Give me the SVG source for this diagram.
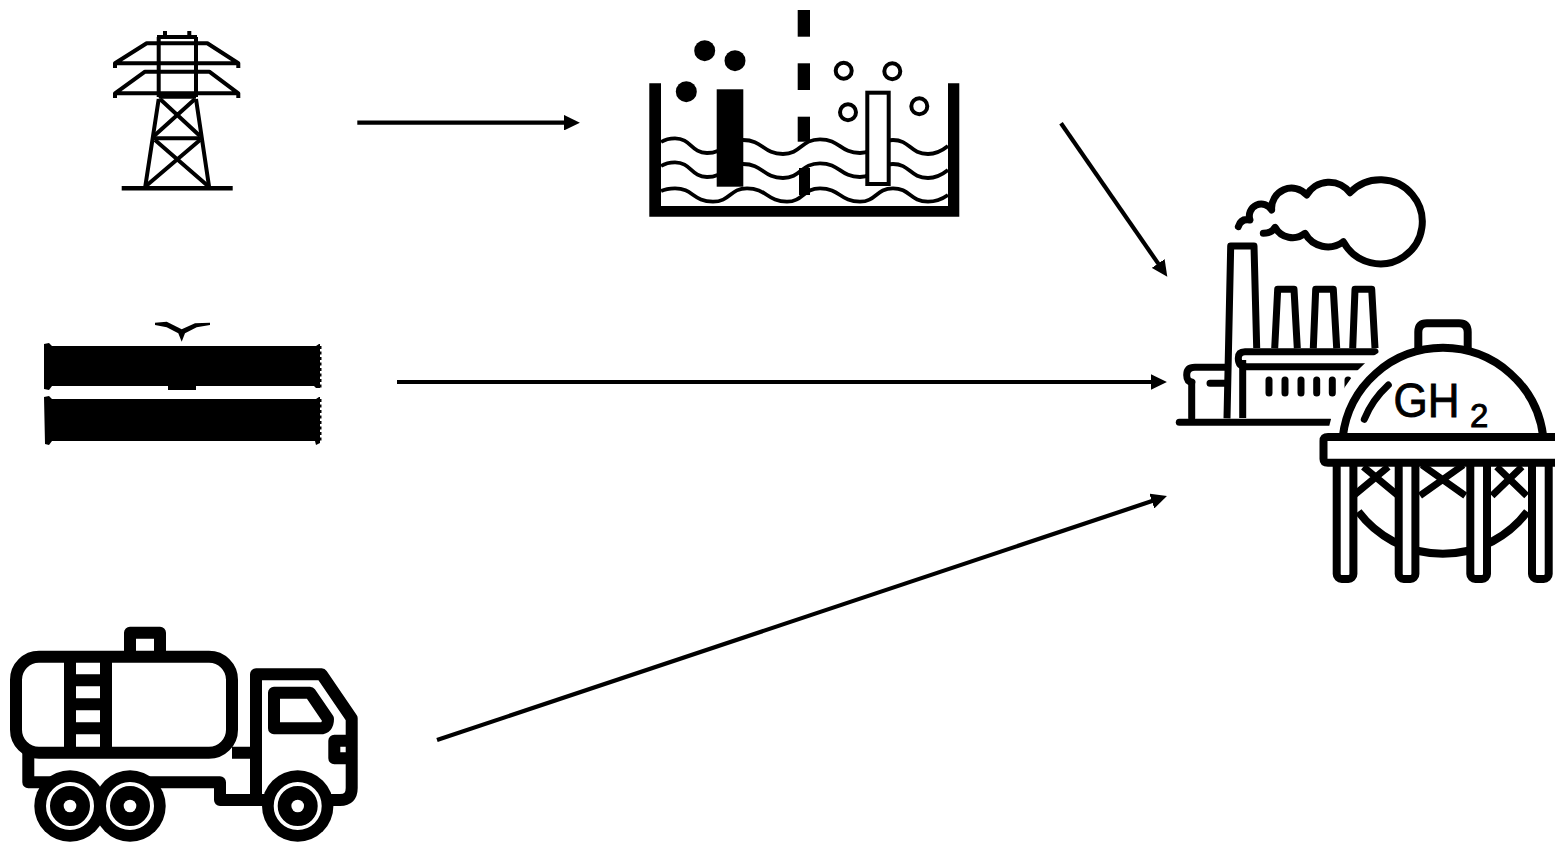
<svg xmlns="http://www.w3.org/2000/svg" width="1555" height="842" viewBox="0 0 1555 842">
<style>
.ln{fill:none;stroke:#000;stroke-linejoin:round}
.rc{stroke-linecap:round}
.blk{fill:#000;stroke:none}
.conn{fill:none;stroke:#000;stroke-width:4.2}
.lab{font-family:"Liberation Sans",Arial,sans-serif;fill:#000;stroke:#000;stroke-width:.9}
</style>
<defs>
<marker id="ah" markerUnits="strokeWidth" markerWidth="3.8" markerHeight="3.7" refX="0.25" refY="1.85" orient="auto"><path d="M0 0L3.8 1.85L0 3.7Z" fill="#000"/></marker>
<filter id="soft" x="-5%" y="-5%" width="110%" height="110%"><feGaussianBlur stdDeviation="0.6"/></filter>
<filter id="soft2" x="-5%" y="-5%" width="110%" height="110%"><feGaussianBlur stdDeviation="0.4"/></filter>
</defs>
<rect width="1555" height="842" fill="#fff"/>
<g id="tower" class="ln" stroke-width="4" filter="url(#soft)">
<path d="M165 31V37M189.300 31V37M157 37H197M158.700 37V97M196 37V97"/>
<path d="M115 68V63.300L146.700 43.300H207.300L238.300 63.300V68M115 63.300H238.300"/>
<path d="M115 98V93.300L145 71.700H209.300L238.300 93.300V98M115 93.300H238.300"/>
<path d="M158.700 96.700H196M158.700 99L145 188.300M196 99L209.300 188.300M153 138.300H201.700"/>
<path d="M160 99L200 136M195 99L154 136M155 140L208 186M200 140L146 186"/>
<path d="M121.700 188.300H232.700" stroke-width="4.500"/>
</g>
<g id="electrolyser" filter="url(#soft)">
<g class="ln" stroke-width="3.800">
<path d="M661 142C665 139.500 670 138.300 675 138.300C691 138.300 691 153 707 153C725 153 725 140 743 140C763 140 763 154 783 154C801 154 801 139.300 820 139.300C840 139.300 840 153 860 153C876 153 876 140 893 140C910 140 910 154 928 154C936 154 943 150 948 146"/>
<path d="M661 166C665 163.500 670 162.300 675 162.300C691 162.300 691 177 707 177C725 177 725 164 743 164C763 164 763 178 783 178C801 178 801 163.300 820 163.300C840 163.300 840 177 860 177C876 177 876 164 893 164C910 164 910 178 928 178C936 178 943 174 948 170"/>
<path d="M661 191C665 189 670 188.300 675 188.300C693 188.300 693 201.700 713 201.700C730 201.700 730 188.300 747 188.300C767 188.300 767 201.700 787 201.700C803 201.700 803 188.300 820 188.300C840 188.300 840 201.700 860 201.700C876 201.700 876 188.300 893 188.300C910 188.300 910 201.700 928 201.700C936 201.700 943 198.500 948 195"/>
</g>
<path class="blk" d="M649.300 83.300H661V206H948V83.300H959.300V216.700H649.300Z"/>
<rect class="blk" x="716.700" y="89.300" width="26.600" height="97.400"/>
<rect x="867.300" y="92.700" width="21.400" height="91.300" fill="#fff" stroke="#000" stroke-width="4"/>
<rect class="blk" x="797.700" y="10" width="12.300" height="26.700"/>
<rect class="blk" x="797.700" y="63.300" width="12.300" height="26.700"/>
<rect class="blk" x="797.700" y="116.700" width="12.300" height="25"/>
<rect class="blk" x="799" y="168" width="11" height="27"/>
<circle class="blk" cx="704.700" cy="50.700" r="10.500"/>
<circle class="blk" cx="735" cy="60.700" r="10.500"/>
<circle class="blk" cx="686.300" cy="91.700" r="10.500"/>
<g class="ln" stroke-width="4">
<circle cx="843.700" cy="70.700" r="8"/>
<circle cx="892.300" cy="71.300" r="8"/>
<circle cx="848" cy="112.300" r="8"/>
<circle cx="919.300" cy="106.300" r="8"/>
</g>
</g>
<g id="pipeline" filter="url(#soft)">
<path class="blk" d="M155 322.700L166.700 321.700L181.700 329.300L195 323.300L210 322.700V325L196.700 327.300L185 333.300L181.700 341.700L178.300 333.300L166.700 327.300L155 325Z"/>
<path class="blk" d="M44 344L49 343L52 346H316L319 344H320V388H316L314 386H196V390H168V386H52L49 390L44 389Z"/>
<path class="blk" d="M44 397L49 396L52 399H316L319 397H320V443L316 445L315 441H52L49 445L45 444Z"/>
<path d="M320 346V388M320 399V443" stroke="#000" stroke-width="3" stroke-dasharray="3 2.500" fill="none"/>
</g>
<g id="truck" filter="url(#soft2)">
<g class="ln" stroke-width="12">
<rect x="16" y="656.700" width="216" height="96" rx="23"/>
<path d="M130 656.700V632.700H160V656.700"/>
<path d="M70 656.700V752.700M106 656.700V752.700M70 680.300H106M70 704.300H106M70 728.300H106"/>
<path d="M28.300 752.700V782.300H55M148 782.300H220V800H340Q351.700 800 351.700 788V718.300L321.700 674.300H256V800M232 752.700H256"/>
<path d="M274 692.700H310L328 719Q328 728.300 320 728.300H274Z"/>
<path d="M351.700 740.700H334.300V758.300H351.700"/>
</g>
<g>
<circle class="blk" cx="70" cy="806" r="35.700"/><circle cx="70" cy="806" r="22" fill="none" stroke="#fff" stroke-width="4"/><circle cx="70" cy="806" r="6.300" fill="#fff"/>
<circle class="blk" cx="130" cy="806" r="35.700"/><circle cx="130" cy="806" r="22" fill="none" stroke="#fff" stroke-width="4"/><circle cx="130" cy="806" r="6.300" fill="#fff"/>
<circle class="blk" cx="297.700" cy="806" r="35.700"/><circle cx="297.700" cy="806" r="22" fill="none" stroke="#fff" stroke-width="4"/><circle cx="297.700" cy="806" r="6.300" fill="#fff"/>
</g>
</g>
<g id="plant">
<g filter="url(#soft2)">
<g class="ln" stroke-width="7">
<path class="rc" d="M1238.300 226.700Q1241 218 1250 220A12 12 0 0 1 1271.700 210A20 20 0 0 1 1306.700 195A26 26 0 0 1 1350 192.700A42 42 0 1 1 1343.300 241.700A26 26 0 0 1 1305 233.300A20 20 0 0 1 1275 227.300Q1272 233.300 1263.300 233.300"/>
<path d="M1227 418.300L1230.700 246H1254L1256.700 348"/>
<path d="M1242.700 360V418"/>
<path d="M1274.700 348.300L1277.700 289.300H1294L1297.300 348.300M1313.300 348.300L1315.700 289.300H1333.300L1336.700 348.300M1352.700 348.300L1355 289.300H1371.700L1375 348.300"/>
<path class="rc" d="M1375 351.700H1245Q1238.300 351.700 1238.300 358.300Q1238.300 366.700 1246.700 366.700H1365"/>
<path class="rc" d="M1225 367.300H1195Q1186.700 367.300 1186.700 375Q1186.700 381.700 1192 382.300M1191.700 382V418M1210 383.300H1225"/>
<path class="rc" d="M1269 380V393M1285 380V393M1301 380V393M1316.700 380V393M1332.300 380V393M1348 380V393"/>
<path class="rc" d="M1179.300 422.300H1330"/>
</g>
<path d="M1342.700 437A101 101 0 0 1 1543.300 437Z" fill="#fff" stroke="#fff" stroke-width="30" stroke-linejoin="round"/>
<rect x="1322" y="441" width="233" height="22" fill="#fff" stroke="#fff" stroke-width="10"/>
<g class="ln" stroke-width="8">
<path d="M1358.300 511.700A106 106 0 0 0 1527.300 511.700"/>
<path stroke-width="7" d="M1363.300 466.700L1398.300 495.700M1388.300 466.700L1353.300 495.700M1420 495.700L1463.300 465M1465.300 495.700L1422 465M1526.700 495.700L1496.700 466.700M1492 495.700L1522 466.700"/>
<rect x="1336.700" y="450" width="16.700" height="129" rx="5" fill="#fff"/>
<rect x="1398.700" y="450" width="16.700" height="129" rx="5" fill="#fff"/>
<rect x="1470.300" y="450" width="16.700" height="129" rx="5" fill="#fff"/>
<rect x="1532" y="450" width="16.700" height="129" rx="5" fill="#fff"/>
<path d="M1418.300 352V332Q1418.300 323.300 1427 323.300H1459Q1467.700 323.300 1467.700 332V352"/>
<path d="M1342.700 437A101 101 0 0 1 1543.300 437" fill="#fff"/>
<path d="M1560 437H1328Q1323.500 437 1323.500 441V459Q1323.500 462.700 1328 462.700H1560" fill="#fff"/>
<path class="rc" d="M1364.300 419.300Q1372 400 1388.300 385" stroke-width="7"/>
</g>
</g>
<text class="lab" x="1393.500" y="416.500" font-size="48" textLength="66" lengthAdjust="spacingAndGlyphs">GH</text>
<text class="lab" x="1470" y="426.500" font-size="33">2</text>
</g>
<g id="connectors" class="conn">
<path d="M357.300 122.700H565" marker-end="url(#ah)"/>
<path d="M397 382H1152" marker-end="url(#ah)"/>
<path d="M437 740L1152.800 500.800" marker-end="url(#ah)"/>
<path d="M1061 123.300L1158.800 264.400" marker-end="url(#ah)"/>
</g>
</svg>
